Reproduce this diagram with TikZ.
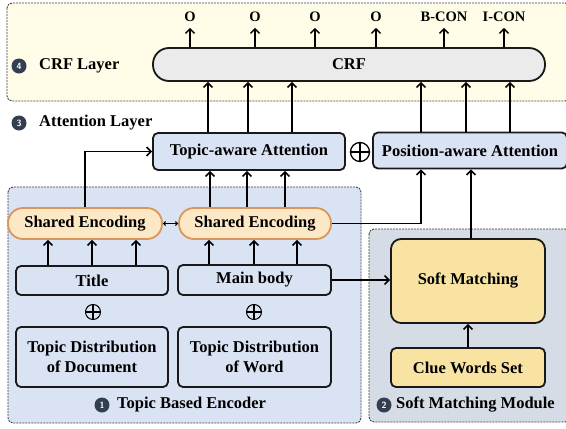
\documentclass[tikz,border=0pt]{standalone}
\usepackage{fontspec}
\setmainfont{Liberation Serif}
\usetikzlibrary{arrows.meta}
\definecolor{crfbg}{HTML}{FFFDE7}
\definecolor{crfgray}{HTML}{EBEBEB}
\definecolor{attblue}{HTML}{DAE3F3}
\definecolor{smbg}{HTML}{D6DCE5}
\definecolor{sefill}{HTML}{FDE8C6}
\definecolor{sedraw}{HTML}{D9955B}
\definecolor{smfill}{HTML}{F8E3A3}
\definecolor{numbg}{HTML}{333F50}

\begin{document}
\begin{tikzpicture}[x=1pt,y=-1pt,
    every node/.style={font=\fontsize{16.5}{20}\selectfont\bfseries},
    region/.style={draw=black!75,line width=0.9pt,dash pattern=on 2pt off 1pt,rounded corners=5pt},
    box/.style={draw=black!90,line width=1.8pt,rounded corners=5pt,inner sep=0pt,align=center},
    encbox/.style={box,draw=sedraw,fill=sefill,rounded corners=15pt,minimum height=31pt},
    outlbl/.style={anchor=base,inner sep=0pt,font=\fontsize{14.5}{16}\selectfont\bfseries},
    numdot/.style={circle,fill=numbg,text=white,inner sep=0pt,minimum size=15pt,
      font=\fontsize{9}{9}\sffamily\bfseries},
    layerlbl/.style={anchor=west,inner sep=0pt},
    plusop/.style={circle,draw,line width=1.3pt,inner sep=0pt,minimum size=#1,
      path picture={\draw[line width=1.3pt]
        (path picture bounding box.north) -- (path picture bounding box.south)
        (path picture bounding box.west) -- (path picture bounding box.east);}},
    arr/.style={-{Straight Barb[length=4.5pt,width=9pt]},line width=1.5pt},
    dblarr/.style={{Straight Barb[length=2pt,width=4pt]}-{Straight Barb[length=2pt,width=4pt]},line width=1pt}]
  \useasboundingbox (0,0) rectangle (566,429);

  \draw[region,fill=crfbg] (7,3) rectangle (570,101);
  \draw[region,fill=attblue] (8,187) rectangle (361,423);
  \draw[region,fill=smbg] (369,229) rectangle (570,422);

  \node[numdot] (n4) at (19,66) {4};
  \node[layerlbl] (crflbl) at (39,66) {CRF Layer};
  \node[numdot] (n3) at (19,123) {3};
  \node[layerlbl] (attlbl) at (39,123) {Attention Layer};
  \node[numdot] (n1) at (102,405) {1};
  \node[layerlbl] (enclbl) at (117,405) {Topic Based Encoder};
  \node[numdot] (n2) at (384,405) {2};
  \node[layerlbl] (smlbl) at (396,405) {Soft Matching Module};

  \node[box,fill=crfgray,minimum width=392pt,minimum height=33pt,rounded corners=16pt] (crf) at (349,64.5) {CRF};
  \foreach \x/\v [count=\i] in {190/O,255/O,315/O,376/O,444/B-CON,504/I-CON}{%
    \node[outlbl] (o\i) at (\x,21.5) {\v};
    \draw[arr,shorten >=6pt] (crf.north -| o\i) -- (o\i.south);
  }

  \node[box,fill=attblue,minimum width=192pt,minimum height=37pt] (topicatt) at (249,151.5) {Topic-aware Attention};
  \node[plusop=19pt] (plus1) at (360,152) {};
  \node[box,fill=attblue,minimum width=194pt,minimum height=36pt] (posatt) at (470,150.5) {Position-aware Attention};
  \foreach \x in {208,248,292}{%
    \draw[arr] (\x,0 |- topicatt.north) -- (\x,0 |- crf.south);
  }
  \foreach \x in {421,466,510}{%
    \draw[arr] (\x,0 |- posatt.north) -- (\x,0 |- crf.south);
  }

  \node[encbox,minimum width=154pt] (se1) at (85,223.5) {Shared Encoding};
  \node[encbox,minimum width=152pt] (se2) at (255,223.5) {Shared Encoding};
  \draw[dblarr] (se1.east) -- (se2.west);
  \draw[arr] (se1.north) |- (topicatt.west);
  \foreach \x in {210,247,285}{%
    \draw[arr] (\x,0 |- se2.north) -- (\x,0 |- topicatt.south);
  }
  \draw[arr] (se2.east) -| ([xshift=-49pt]posatt.south);

  \node[box,fill=attblue,minimum width=152pt,minimum height=29pt] (title) at (92,280.5) {Title};
  \node[box,fill=attblue,minimum width=153pt,minimum height=30pt] (mainbody) at (254.5,280) {Main body};
  \foreach \x in {48,92,136}{%
    \draw[arr] (\x,0 |- title.north) -- (\x,0 |- se1.south);
  }
  \foreach \x in {209,254,297}{%
    \draw[arr] (\x,0 |- mainbody.north) -- (\x,0 |- se2.south);
  }
  \node[plusop=15pt,line width=1pt] (plus2) at (93,312) {};
  \node[plusop=15pt,line width=1pt] (plus3) at (254,312) {};
  \node[box,fill=attblue,minimum width=152pt,minimum height=60pt] (tdd) at (92,357) {Topic Distribution\\of Document};
  \node[box,fill=attblue,minimum width=153pt,minimum height=60pt] (tdw) at (254.5,357) {Topic Distribution\\of Word};

  \node[box,fill=smfill,minimum width=154pt,minimum height=84pt,rounded corners=10pt] (softm) at (468,281) {Soft Matching};
  \node[box,fill=smfill,minimum width=154pt,minimum height=39pt] (clue) at (468,367.5) {Clue Words Set};
  \draw[arr] (mainbody.east) -- (mainbody.east -| softm.west);
  \draw[arr] ([xshift=3pt]softm.north) -- ([xshift=3pt]softm.north |- posatt.south);
  \draw[arr] (clue.north) -- (softm.south);
\end{tikzpicture}
\end{document}
